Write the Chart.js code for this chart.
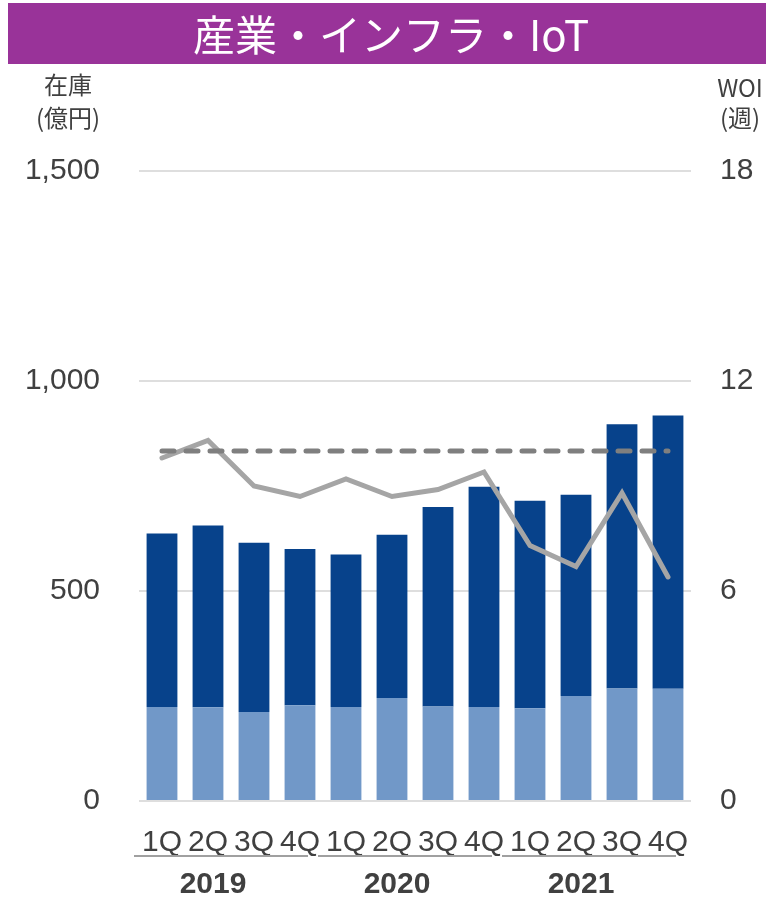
<!DOCTYPE html>
<html>
<head>
<meta charset="utf-8">
<script src="https://cdn.jsdelivr.net/npm/chart.js@4.4.0/dist/chart.umd.min.js"></script>
<style>
  html, body { margin: 0; padding: 0; background: #fff; }
  #wrap { width: 766px; height: 900px; }
</style>
</head>
<body>
<div id="wrap"><canvas id="chart" width="766" height="900"></canvas></div>
<script>
// ---------- DATA ----------
const chartTitle = "産業・インフラ・IoT";
const quarters = ["1Q", "2Q", "3Q", "4Q", "1Q", "2Q", "3Q", "4Q", "1Q", "2Q", "3Q", "4Q"];
const years = ["2019", "2020", "2021"];
const stockLower = [224, 223, 212, 228, 224, 245, 225, 224, 221, 250, 268, 267];
const stockUpper = [413, 433, 403, 372, 363, 389, 475, 524, 494, 479, 629, 651];
const woi = [9.8, 10.3, 9.0, 8.7, 9.2, 8.7, 8.9, 9.4, 7.3, 6.7, 8.8, 6.4];
const woiTarget = [10, 10, 10, 10, 10, 10, 10, 10, 10, 10, 10, 10];
const leftTicks = [0, 500, 1000, 1500];
const rightTicks = [0, 6, 12, 18];

const textColor = "#404040";
const latin = '"Liberation Sans", Arial, sans-serif';
const cjk = '"Noto Sans CJK JP", sans-serif';

// ---------- TITLE / AXIS TITLES / YEAR GROUPS ----------
const decor = {
  id: "decor",
  beforeDraw(chart) {
    const ctx = chart.ctx;
    ctx.save();
    ctx.fillStyle = "#fff";
    ctx.fillRect(0, 0, chart.width, chart.height);
    ctx.fillStyle = "#993399";
    ctx.fillRect(8, 3, chart.width - 8, 61);
    ctx.fillStyle = "#fff";
    ctx.textAlign = "center";
    ctx.textBaseline = "middle";
    ctx.font = "42px " + cjk;
    ctx.fillText(chartTitle, 391, 35);

    ctx.fillStyle = textColor;
    ctx.font = "24px " + cjk;
    ctx.fillText("在庫", 68, 85);
    ctx.fillText("(億円)", 68, 118);
    ctx.fillText("WOI", 740, 88);
    ctx.fillText("(週)", 740, 118);
    ctx.restore();
  },
  afterDraw(chart) {
    const ctx = chart.ctx;
    const xs = chart.scales.x;
    ctx.save();
    years.forEach((yr, i) => {
      const a = xs.getPixelForValue(i * 4);
      const b = xs.getPixelForValue(i * 4 + 3);
      const l = a - 28, r = b + 8;
      ctx.strokeStyle = "#a0a0a0";
      ctx.lineWidth = 2;
      ctx.beginPath();
      ctx.moveTo(l, 856);
      ctx.lineTo(r, 856);
      ctx.stroke();
      ctx.fillStyle = textColor;
      ctx.font = "bold 30px " + latin;
      ctx.textAlign = "center";
      ctx.textBaseline = "middle";
      ctx.fillText(yr, (l + r) / 2 - 8, 885);
    });
    ctx.restore();
  }
};

// ---------- CHART ----------
new Chart(document.getElementById("chart"), {
  data: {
    labels: quarters,
    datasets: [
      { type: "line", label: "WOI目標", data: woiTarget, yAxisID: "y1", borderColor: "#7f7f7f", borderWidth: 5, borderDash: [12, 12], borderCapStyle: "round", pointRadius: 0, order: 0 },
      { type: "line", label: "WOI", data: woi, yAxisID: "y1", borderColor: "#a5a5a5", borderWidth: 5, borderCapStyle: "round", pointRadius: 0, tension: 0, order: 1 },
      { type: "bar", label: "在庫1", data: stockLower, yAxisID: "y", backgroundColor: "#7198c8", barPercentage: 0.67, categoryPercentage: 1, order: 2 },
      { type: "bar", label: "在庫2", data: stockUpper, yAxisID: "y", backgroundColor: "#07428b", barPercentage: 0.67, categoryPercentage: 1, order: 2 }
    ]
  },
  options: {
    responsive: false,
    animation: false,
    devicePixelRatio: 1,
    layout: { padding: { top: 171, left: 0, right: 0, bottom: 0 } },
    plugins: { legend: { display: false }, tooltip: { enabled: false } },
    scales: {
      x: {
        stacked: true,
        grid: { display: false },
        border: { display: false },
        ticks: { color: textColor, font: { family: latin, size: 30 }, padding: 16, autoSkip: false, maxRotation: 0 },
        afterFit(s) { s.height = 99; }
      },
      y: {
        stacked: true,
        position: "left",
        min: 0,
        max: 1500,
        afterBuildTicks(s) { s.ticks = leftTicks.map(v => ({ value: v })); },
        ticks: { color: textColor, font: { family: latin, size: 30 }, padding: 39, callback: v => v.toLocaleString("en-US") },
        grid: { color: "#dedede", lineWidth: 2, drawTicks: false },
        border: { display: false },
        afterFit(s) { s.width = 139; }
      },
      y1: {
        position: "right",
        min: 0,
        max: 18,
        afterBuildTicks(s) { s.ticks = rightTicks.map(v => ({ value: v })); },
        ticks: { color: textColor, font: { family: latin, size: 30 }, padding: 29 },
        grid: { display: false, drawTicks: false },
        border: { display: false },
        afterFit(s) { s.width = 75; }
      }
    }
  },
  plugins: [decor]
});
</script>
</body>
</html>
